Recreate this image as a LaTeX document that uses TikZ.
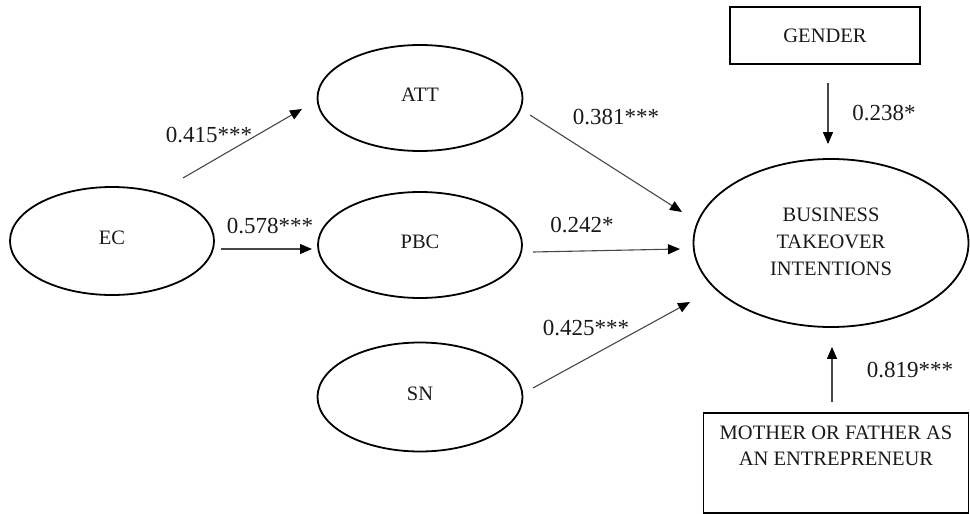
\documentclass[tikz,border=0pt]{standalone}
\usepackage{fontspec}
\setmainfont{Liberation Serif}
\usetikzlibrary{shapes.geometric,arrows.meta}
\begin{document}
\begin{tikzpicture}[x=1pt,y=-1pt,
  construct/.style={ellipse,draw,line width=1.8pt,inner sep=0pt,text=black!90,
    font=\fontsize{20.5}{27}\selectfont},
  boxnode/.style={rectangle,draw,line width=1.8pt,inner sep=0pt,text=black!90,
    font=\fontsize{20.5}{26}\selectfont,align=center},
  arr/.style={draw=black!72,line width=1.1pt,-{Triangle[length=12pt,width=10pt,fill=black,color=black]}},
  coef/.style={font=\fontsize{23}{26}\selectfont,text=black!90,inner sep=0pt}]
\useasboundingbox (0,0) rectangle (970,514);
% constructs
\node[construct,minimum width=204pt,minimum height=108pt] (EC) at (112,241) {\raisebox{6pt}{EC}};
\node[construct,minimum width=205pt,minimum height=106pt] (ATT) at (420,98) {\raisebox{6pt}{ATT}};
\node[construct,minimum width=204pt,minimum height=106pt] (PBC) at (420,245) {\raisebox{7pt}{PBC}};
\node[construct,minimum width=205pt,minimum height=109pt] (SN) at (420,397) {\raisebox{6pt}{SN}};
\node[construct,minimum width=275pt,minimum height=168pt,align=center] (BTI) at (831,243)
  {\raisebox{8pt}{\begin{tabular}{@{}c@{}}BUSINESS\\[0pt]TAKEOVER\\INTENTIONS\end{tabular}}};
\node[boxnode,minimum width=190pt,minimum height=57pt] (GEN) at (825,35.5) {GENDER};
\node[boxnode,minimum width=265pt,minimum height=100pt] (MF) at (836,463)
  {MOTHER OR FATHER AS\\AN ENTREPRENEUR\\\strut};
% connectors
\draw[arr] ([shift={(71,-63)}]EC.center) -- ([shift={(-118,11)}]ATT.center);
\draw[arr] ([shift={(109,8)}]EC.center) -- ([shift={(-108,4)}]PBC.center);
\draw[arr] ([shift={(110,17)}]ATT.center) -- ([shift={(-149,-31)}]BTI.center);
\draw[arr] ([shift={(113,7)}]PBC.center) -- ([shift={(-151,6)}]BTI.center);
\draw[arr] ([shift={(113,-9)}]SN.center) -- ([shift={(-141,59)}]BTI.center);
\draw[arr] ([shift={(3,18)}]GEN.south) -- ([shift={(-3,-14)}]BTI.north);
\draw[arr] ([shift={(-4,-10)}]MF.north) -- ([shift={(1,19)}]BTI.south);
% coefficients
\node[coef] (c1) at (209,135) {0.415***};
\node[coef] (c2) at (270,226) {0.578***};
\node[coef] (c3) at (616,117) {0.381***};
\node[coef] (c4) at (582,225) {0.242*};
\node[coef] (c5) at (586,328) {0.425***};
\node[coef] (c6) at (884,113) {0.238*};
\node[coef] (c7) at (910,370) {0.819***};
\end{tikzpicture}
\end{document}
